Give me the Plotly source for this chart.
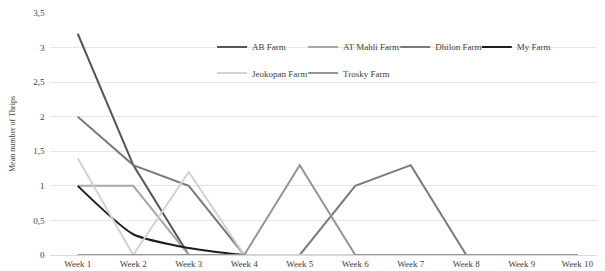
import plotly.graph_objects as go

weeks = ["Week 1", "Week 2", "Week 3", "Week 4", "Week 5", "Week 6", "Week 7", "Week 8", "Week 9", "Week 10"]
ab_farm = [3.2, 1.3, 0, 0, 0, 0, 0, 0, 0, 0]
at_mahli_farm = [1, 1, 0, 0, 0, 0, 0, 0, 0, 0]
dhilon_farm = [2, 1.3, 1, 0, 0, 1, 1.3, 0, 0, 0]
my_farm = [1, 0.3, 0.1, 0, 0, 0, 0, 0, 0, 0]
jeokopan_farm = [1.4, 0, 1.2, 0, 0, 0, 0, 0, 0, 0]
trosky_farm = [0, 0, 0, 0, 1.3, 0, 0, 0, 0, 0]

series = [
    ("AB Farm", ab_farm, "#555555", "linear"),
    ("AT Mahli Farm", at_mahli_farm, "#a8a8a8", "linear"),
    ("Dhilon Farm", dhilon_farm, "#7a7a7a", "linear"),
    ("My Farm", my_farm, "#1e1e1e", "spline"),
    ("Jeokopan Farm", jeokopan_farm, "#d2d2d2", "linear"),
    ("Trosky Farm", trosky_farm, "#959595", "linear"),
]
legend_pos = [(0.292, 0.86), (0.456, 0.86), (0.622, 0.86), (0.769, 0.86),
              (0.292, 0.752), (0.456, 0.752)]

font = "Liberation Serif, Times New Roman, serif"
fig = go.Figure()
layout_legends = {}
for i, (name, vals, color, shape) in enumerate(series):
    key = "legend" if i == 0 else f"legend{i + 1}"
    fig.add_trace(go.Scatter(
        x=weeks, y=vals, name=name, mode="lines",
        line=dict(color=color, width=2, shape=shape, smoothing=0.6),
        legend=key,
    ))
    lx, ly = legend_pos[i]
    layout_legends[key] = dict(
        x=lx, y=ly, xanchor="left", yanchor="middle", orientation="h",
        bgcolor="rgba(0,0,0,0)", borderwidth=0,
        font=dict(family=font, size=9, color="#404040"),
    )

fig.update_layout(
    width=597, height=263,
    margin=dict(l=42, r=0, t=5, b=16, autoexpand=False),
    paper_bgcolor="white", plot_bgcolor="white",
    separators=", ",
    font=dict(family=font, size=9, color="#404040"),
    showlegend=True,
    xaxis=dict(type="category", range=[-0.5, 9.5], showgrid=False, showline=True,
               linecolor="#d9d9d9", ticks="", automargin=False,
               tickfont=dict(size=9, color="#404040"), zeroline=False),
    yaxis=dict(range=[0, 3.5], dtick=0.5, showgrid=True, gridcolor="#e6e6e6",
               zeroline=False, showline=False, ticks="", ticksuffix="  ", automargin=False,
               tickfont=dict(size=9, color="#404040"),
               title=dict(text="Mean number of Thrips", font=dict(size=8, color="#404040"), standoff=18)),
    **layout_legends,
)

fig.write_html("out.html")
